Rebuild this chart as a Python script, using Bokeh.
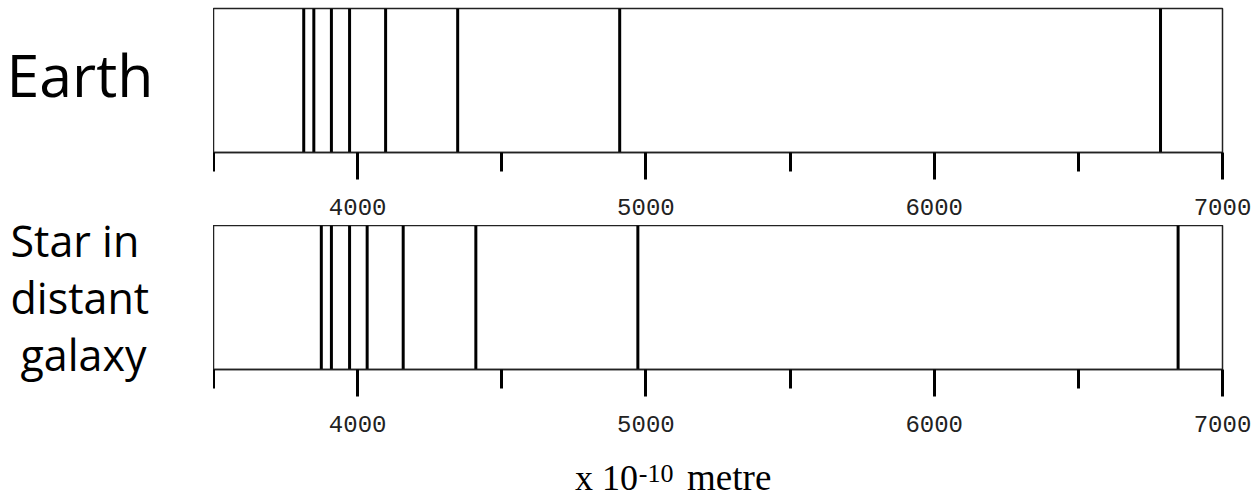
from bokeh.plotting import figure
from bokeh.models import Range1d, FixedTicker
from bokeh.layouts import column, row
from bokeh.core.properties import value
from bokeh.embed import file_html
from bokeh.resources import INLINE

# ---- data (wavelengths in units of 10^-10 m) ----
earth_lines = [3813, 3848, 3909, 3972, 4097, 4347, 4909, 6785]
star_lines = [3874, 3909, 3972, 4033, 4158, 4410, 4972, 6846]
major_ticks = [4000, 5000, 6000, 7000]
minor_ticks = [3500, 4500, 5500, 6500]
x_start, x_end = 3500, 7000
earth_label = ["Earth"]
star_label = ["Star in", "distant", "galaxy"]
unit_main, unit_sup, unit_tail = "x 10", "-10", "metre"

# ---- layout constants (pixels) ----
PAGE_H = 497
LEFT_W = 213
FRAME_W = 1009
RIGHT = 35
FRAME_H = 144


def make_panel(lines, border_top, border_bottom):
    p = figure(width=FRAME_W + RIGHT, height=border_top + FRAME_H + border_bottom,
               x_range=Range1d(x_start, x_end), y_range=Range1d(0, 1),
               y_axis_type=None, toolbar_location=None, output_backend="svg",
               title=None,
               min_border_left=0, min_border_right=RIGHT,
               min_border_top=border_top, min_border_bottom=border_bottom)
    p.xgrid.visible = False
    p.ygrid.visible = False
    p.outline_line_color = "#222222"
    p.outline_line_width = 1.5
    p.background_fill_color = "white"
    p.border_fill_color = "white"
    p.segment(x0=lines, y0=0, x1=lines, y1=1, line_color="black",
              line_width=3, line_cap="butt")
    ax = p.xaxis[0]
    ax.ticker = FixedTicker(ticks=major_ticks, minor_ticks=minor_ticks)
    ax.axis_line_color = "#222222"
    ax.axis_line_width = 1.5
    ax.major_tick_line_width = 3
    ax.minor_tick_line_width = 3
    ax.major_tick_line_color = "black"
    ax.minor_tick_line_color = "black"
    ax.major_tick_in = 0
    ax.major_tick_out = 27
    ax.minor_tick_in = 0
    ax.minor_tick_out = 19
    ax.major_label_text_font = "Liberation Mono"
    ax.major_label_text_font_size = "24px"
    ax.major_label_text_color = "#222222"
    ax.major_label_standoff = 19
    return p


def blank(width, height):
    f = figure(width=width, height=height, x_range=Range1d(0, width),
               y_range=Range1d(height, 0), x_axis_type=None, y_axis_type=None,
               toolbar_location=None, output_backend="svg", title=None,
               min_border=0, outline_line_color=None)
    f.xgrid.visible = False
    f.ygrid.visible = False
    return f


p1 = make_panel(earth_lines, 8, 73)      # page y 0..225
p2 = make_panel(star_lines, 0, 72)       # page y 225..441
bottom_h = PAGE_H - p1.height - p2.height
p3 = blank(FRAME_W + RIGHT, bottom_h)     # unit label strip

left = blank(LEFT_W, PAGE_H)
left.text(x=[6], y=[73], text=earth_label, text_font=value("Open Sans"),
          text_font_size="59px", text_color="black",
          text_baseline="alphabetic", text_align="left")
left.text(x=[10, 10, 20], y=[240, 297, 354], text=star_label,
          text_font=value("Open Sans"), text_font_size="43px",
          text_color="black", text_baseline="alphabetic", text_align="left")

p3.text(x=[374], y=[36], text=[unit_main], text_font=value("Liberation Serif"),
        text_font_size="36px", text_color="black",
        text_baseline="alphabetic", text_align="left")
p3.text(x=[440], y=[32], text=[unit_sup], text_font=value("Liberation Serif"),
        text_font_size="26px", text_color="black",
        text_baseline="alphabetic", text_align="left")
p3.text(x=[490], y=[36], text=[unit_tail], text_font=value("Liberation Serif"),
        text_font_size="37px", text_color="black",
        text_baseline="alphabetic", text_align="left")

layout = row(left, column(p1, p2, p3, spacing=0), spacing=0)
open("out.html", "w").write(file_html(layout, INLINE))
